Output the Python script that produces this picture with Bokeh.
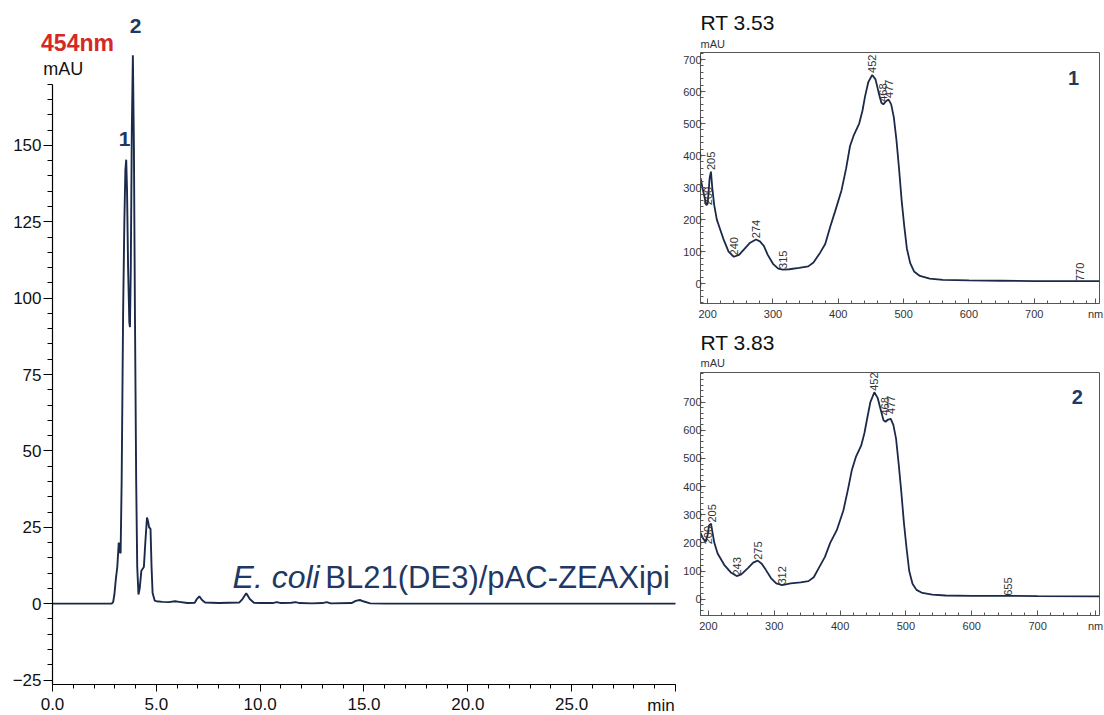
from math import pi
from bokeh.plotting import figure
from bokeh.layouts import row, column
from bokeh.models import (Label, Title, SingleIntervalTicker, FixedTicker, PrintfTickFormatter, Range1d)
from bokeh.core.properties import value
from bokeh.embed import file_html
from bokeh.resources import INLINE

FONT = "Liberation Sans"
NAVY = "#1b2a4a"
LABEL_NAVY = "#1f3864"

# ---------------- Chromatogram (454 nm) ----------------
chrom_time = [0.0, 2.85, 2.92, 2.98, 3.05, 3.12, 3.19, 3.24, 3.28, 3.33, 3.40, 3.46, 3.51, 3.55,
              3.59, 3.64, 3.70, 3.73, 3.77, 3.82, 3.87, 3.92, 3.97, 4.03, 4.08, 4.14, 4.20, 4.28,
              4.40, 4.47, 4.55, 4.60, 4.65, 4.72, 4.77, 4.82, 4.92, 5.0, 5.3, 5.6, 5.9, 6.1, 6.5,
              6.85, 6.95, 7.07, 7.2, 7.35, 8.0, 8.5, 9.0, 9.15, 9.33, 9.5, 9.7, 10.0, 10.6, 10.8,
              11.0, 11.5, 11.7, 11.9, 12.5, 13.0, 13.2, 13.4, 14.4, 14.6, 14.8, 15.0, 15.3, 16.0, 30.0]
chrom_mau = [0.0, 0.0, 0.5, 3.0, 8.0, 12.0, 20.0, 17.0, 16.5, 40.0, 95.0, 125.0, 142.0, 145.3,
             135.0, 110.0, 92.0, 90.5, 110.0, 155.0, 179.5, 150.0, 95.0, 40.0, 12.0, 3.0, 5.0, 10.8,
             12.0, 20.0, 28.2, 27.0, 25.0, 24.5, 12.0, 3.5, 1.0, 0.8, 0.6, 0.5, 0.8, 0.6, 0.2,
             0.3, 1.5, 2.4, 1.2, 0.4, 0.2, 0.3, 0.4, 1.5, 3.4, 1.5, 0.3, 0.2, 0.2, 0.5,
             0.2, 0.3, 0.5, 0.2, 0.1, 0.2, 0.5, 0.1, 0.2, 0.9, 1.2, 0.7, 0.1, 0.0, 0.0]
chrom_ticks_y = [-25, 0, 25, 50, 75, 100, 125, 150]
peak_ids = ["1", "2"]
peak_id_x = [3.47, 4.0]
peak_id_y = [152.0, 189.2]

# ---------------- UV-Vis spectra ----------------
spec1_nm = [189, 193, 198, 200, 203, 205, 207, 210, 214, 219, 224, 232, 240, 248, 256, 265, 274, 280,
            286, 292, 300, 308, 315, 325, 340, 354, 362, 372, 380, 388, 395, 405, 412, 418, 424, 432,
            437, 441, 446, 452, 457, 462, 466, 469, 473, 477, 481, 485, 489, 493, 497, 501, 505, 510,
            516, 525, 540, 560, 600, 650, 700, 770, 800]
spec1_mau = [330, 290, 245, 250, 330, 350, 300, 245, 200, 170, 140, 100, 84, 90, 108, 128, 138, 132,
             118, 90, 62, 47, 44, 45, 49, 54, 66, 96, 124, 180, 225, 292, 360, 430, 465, 500,
             540, 585, 630, 652, 638, 595, 565, 560, 570, 575, 560, 520, 450, 360, 260, 180, 110, 65,
             38, 24, 16, 12, 10, 9, 8, 8, 8]
spec1_peaks = ["200", "205", "240", "274", "315", "452", "468", "477", "770"]
spec1_peak_nm = [200, 205, 240, 274, 315, 452, 468, 477, 770]
spec1_peak_mau = [245, 355, 88, 142, 46, 658, 568, 580, 8]

spec2_nm = [188, 192, 196, 199, 201, 204, 206, 209, 214, 224, 234, 243, 250, 260, 268, 275, 281, 287,
            295, 303, 312, 325, 340, 352, 360, 368, 377, 385, 395, 405, 412, 418, 424, 432, 437, 441,
            446, 452, 457, 462, 466, 469, 473, 477, 481, 485, 489, 493, 497, 501, 505, 510, 516, 525,
            540, 560, 600, 655, 700, 794]
spec2_mau = [235, 215, 204, 230, 262, 268, 240, 200, 162, 122, 95, 82, 88, 110, 130, 137, 126, 105,
             75, 56, 50, 56, 60, 64, 78, 112, 150, 200, 245, 315, 390, 460, 505, 545, 590, 640,
             700, 735, 715, 670, 635, 630, 638, 640, 618, 570, 480, 380, 270, 180, 100, 55, 33, 22,
             16, 13, 12, 12, 11, 10]
spec2_peaks = ["200", "205", "243", "275", "312", "452", "468", "477", "655"]
spec2_peak_nm = [200, 205, 243, 275, 312, 452, 468, 477, 655]
spec2_peak_mau = [195, 272, 84, 140, 52, 740, 652, 658, 12]

spec_ticks_x = [200, 300, 400, 500, 600, 700]
spec_ticks_y = [0, 100, 200, 300, 400, 500, 600, 700]

# ---------------- Main chromatogram figure ----------------
main = figure(width=680, height=715, output_backend="svg", toolbar_location=None,
              x_range=Range1d(-2.504, 30.241), y_range=Range1d(-36.6, 197.4),
              min_border_left=0, min_border_right=0, min_border_top=0, min_border_bottom=0)
main.outline_line_color = None
main.xgrid.visible = False
main.ygrid.visible = False

main.line(chrom_time, chrom_mau, line_color=NAVY, line_width=1.9)

xa = main.xaxis[0]
xa.ticker = SingleIntervalTicker(interval=5, num_minor_ticks=5)
xa.formatter = PrintfTickFormatter(format="%.1f")
xa.major_label_overrides = {30: ""}
xa.fixed_location = -26.5
xa.bounds = (0, 30)
ya = main.yaxis[0]
ya.ticker = FixedTicker(ticks=chrom_ticks_y, minor_ticks=list(range(-25, 175, 5)))
ya.fixed_location = 0
ya.bounds = (-26.5, 170)
for ax in (xa, ya):
    ax.axis_line_color = "black"
    ax.axis_line_width = 1.2
    ax.major_tick_line_color = "black"
    ax.minor_tick_line_color = "black"
    ax.major_tick_in = 0
    ax.minor_tick_in = 0
    ax.major_label_text_font = FONT
    ax.major_label_text_font_size = "17px"
    ax.major_label_text_color = "#111111"
xa.major_tick_out = 7
xa.minor_tick_out = 4
xa.major_label_standoff = 6
ya.major_tick_out = 9
ya.minor_tick_out = 5
ya.major_label_standoff = 2

main.add_layout(Label(x=29.3, y=-33.3, text="min", text_align="center", text_baseline="middle",
                      text_font=FONT, text_font_size="17px", text_color="#111111"))
main.add_layout(Label(x=-0.55, y=183.5, text="454nm", text_align="left", text_baseline="middle",
                      text_font=FONT, text_font_size="23px", text_font_style="bold",
                      text_color="#d42a27"))
main.add_layout(Label(x=-0.45, y=175.0, text="mAU", text_align="left", text_baseline="middle",
                      text_font=FONT, text_font_size="18px", text_color="#111111"))
for t, x, y in zip(peak_ids, peak_id_x, peak_id_y):
    main.add_layout(Label(x=x, y=y, text=t, text_align="center", text_baseline="middle",
                          text_font=FONT, text_font_size="21px", text_font_style="bold",
                          text_color=LABEL_NAVY))
main.add_layout(Label(x=8.67, y=8.6, text="E. coli", text_align="left", text_baseline="middle",
                      text_font=FONT, text_font_size="32px", text_font_style="italic",
                      text_color=LABEL_NAVY))
main.add_layout(Label(x=13.14, y=8.6, text="BL21(DE3)/pAC-ZEAXipi", text_align="left",
                      text_baseline="middle", text_font=FONT, text_font_size="31px",
                      text_color=LABEL_NAVY))


def spectrum_panel(nm, mau, peaks, peak_nm, peak_mau, xr, yr, height, btop, bbottom,
                   rt_text, num_text, num_x, num_y, nm_x, mau_standoff, rt_standoff):
    p = figure(width=424, height=height, output_backend="svg", toolbar_location=None,
               x_range=Range1d(*xr), y_range=Range1d(*yr),
               min_border_left=19, min_border_right=5, min_border_top=btop,
               min_border_bottom=bbottom)
    p.outline_line_color = "#555555"
    p.outline_line_width = 1
    p.xgrid.visible = False
    p.ygrid.visible = False
    p.line(nm, mau, line_color=NAVY, line_width=1.8)
    p.text(x=peak_nm, y=peak_mau, text=peaks, angle=pi / 2, text_align="left",
           text_baseline="middle", text_font=value(FONT), text_font_size="11px",
           text_color="#333333")
    xa = p.xaxis[0]
    ya = p.yaxis[0]
    xa.ticker = FixedTicker(ticks=spec_ticks_x + [nm_x], minor_ticks=list(range(200, 800, 20)))
    xa.major_label_overrides = {nm_x: "nm"}
    ya.ticker = FixedTicker(ticks=spec_ticks_y,
                            minor_ticks=list(range(-60, int(yr[1]) + 1, 20)))
    for ax in (xa, ya):
        ax.axis_line_color = "#555555"
        ax.major_tick_line_color = "#555555"
        ax.minor_tick_line_color = "#555555"
        ax.major_tick_in = 5
        ax.major_tick_out = 0
        ax.minor_tick_in = 3
        ax.minor_tick_out = 0
        ax.major_label_text_font = FONT
        ax.major_label_text_font_size = "11px"
        ax.major_label_text_color = "#333333"
    xa.major_label_standoff = 4
    ya.major_label_standoff = -1
    p.add_layout(Title(text="mAU", align="left", text_font=FONT, text_font_size="11px",
                       text_font_style="normal", text_color="#333333",
                       standoff=mau_standoff), "above")
    p.add_layout(Title(text=rt_text, align="left", text_font=FONT, text_font_size="21px",
                       text_font_style="normal", text_color="#111111",
                       standoff=rt_standoff), "above")
    p.add_layout(Label(x=num_x, y=num_y, text=num_text, text_align="center",
                       text_baseline="middle", text_font=FONT, text_font_size="20px",
                       text_font_style="bold", text_color=LABEL_NAVY))
    return p


p1 = spectrum_panel(spec1_nm, spec1_mau, spec1_peaks, spec1_peak_nm, spec1_peak_mau,
                    (189, 800), (-62, 722), 330, 52, 27, "RT 3.53", "1", 760.3, 643.9, 794,
                    6, -2)
p2 = spectrum_panel(spec2_nm, spec2_mau, spec2_peaks, spec2_peak_nm, spec2_peak_mau,
                    (188, 794), (-58, 805), 385, 38, 100, "RT 3.83", "2", 760.3, 717.6, 788,
                    7, -4)

layout = row(main, column(p1, p2))
open("out.html", "w").write(file_html(layout, INLINE))
